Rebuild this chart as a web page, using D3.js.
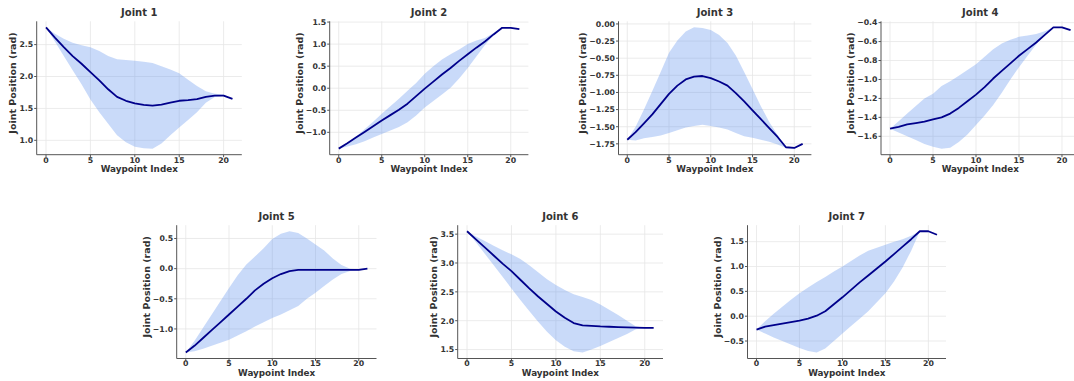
<!DOCTYPE html>
<html>
<head>
<meta charset="utf-8">
<script src="https://cdn.jsdelivr.net/npm/d3@7"></script>
<style>
  body { margin: 0; background: #fff; }
  svg { display: block; font-family: "DejaVu Sans", sans-serif; font-weight: bold; }
</style>
</head>
<body>
<svg id="chart" width="1074" height="381"></svg>
<script>
// waypoint index 0..21
const waypoints = [0,1,2,3,4,5,6,7,8,9,10,11,12,13,14,15,16,17,18,19,20,21];
const xTicks = [0, 5, 10, 15, 20];

// Joint 1
const j1Mean  = [2.77,2.61,2.46,2.32,2.20,2.07,1.94,1.80,1.68,1.62,1.58,1.555,1.545,1.56,1.59,1.62,1.63,1.645,1.68,1.70,1.70,1.65];
const j1Upper = [2.77,2.67,2.59,2.53,2.49,2.46,2.40,2.32,2.27,2.26,2.245,2.23,2.21,2.16,2.11,2.05,1.95,1.85,1.77,1.73,1.72,1.65];
const j1Lower = [2.77,2.55,2.32,2.10,1.88,1.64,1.44,1.26,1.08,0.97,0.90,0.875,0.87,0.95,1.08,1.20,1.32,1.44,1.59,1.68,1.70,1.65];
const j1Ticks = [1.0, 1.5, 2.0, 2.5];

// Joint 2
const j2Mean  = [-1.37,-1.25,-1.12,-0.99,-0.86,-0.73,-0.61,-0.49,-0.35,-0.18,-0.01,0.15,0.31,0.46,0.62,0.77,0.92,1.06,1.22,1.37,1.37,1.34];
const j2Upper = [-1.37,-1.25,-1.10,-0.93,-0.76,-0.58,-0.41,-0.24,-0.06,0.12,0.33,0.50,0.65,0.77,0.88,1.00,1.08,1.14,1.25,1.38,1.38,1.34];
const j2Lower = [-1.37,-1.32,-1.27,-1.20,-1.12,-1.04,-0.96,-0.88,-0.77,-0.62,-0.44,-0.29,-0.14,0.01,0.22,0.46,0.72,0.98,1.20,1.37,1.37,1.34];
const j2Ticks = [-1.0, -0.5, 0.0, 0.5, 1.0, 1.5];

// Joint 3
const j3Mean  = [-1.69,-1.58,-1.45,-1.32,-1.17,-1.02,-0.90,-0.81,-0.77,-0.76,-0.79,-0.84,-0.90,-1.01,-1.13,-1.26,-1.39,-1.52,-1.65,-1.80,-1.81,-1.75];
const j3Upper = [-1.69,-1.50,-1.25,-0.98,-0.70,-0.42,-0.24,-0.11,-0.05,-0.06,-0.09,-0.16,-0.28,-0.46,-0.70,-0.95,-1.20,-1.43,-1.62,-1.80,-1.80,-1.75];
const j3Lower = [-1.69,-1.70,-1.67,-1.65,-1.63,-1.59,-1.55,-1.51,-1.49,-1.47,-1.49,-1.51,-1.54,-1.59,-1.64,-1.66,-1.69,-1.72,-1.76,-1.81,-1.82,-1.76];
const j3Ticks = [-1.75, -1.5, -1.25, -1.0, -0.75, -0.5, -0.25, 0.0];

// Joint 4
const j4Mean  = [-1.52,-1.50,-1.475,-1.46,-1.445,-1.42,-1.40,-1.36,-1.30,-1.23,-1.16,-1.08,-0.99,-0.91,-0.83,-0.75,-0.68,-0.61,-0.53,-0.45,-0.45,-0.48];
const j4Upper = [-1.52,-1.44,-1.36,-1.28,-1.20,-1.15,-1.07,-1.02,-0.96,-0.90,-0.84,-0.76,-0.68,-0.62,-0.58,-0.55,-0.535,-0.52,-0.49,-0.45,-0.45,-0.48];
const j4Lower = [-1.52,-1.56,-1.60,-1.64,-1.68,-1.71,-1.73,-1.72,-1.66,-1.58,-1.48,-1.38,-1.27,-1.14,-1.00,-0.87,-0.75,-0.63,-0.52,-0.45,-0.45,-0.48];
const j4Ticks = [-1.6, -1.4, -1.2, -1.0, -0.8, -0.6, -0.4];

// Joint 5
const j5Mean  = [-1.39,-1.28,-1.15,-1.02,-0.89,-0.76,-0.63,-0.50,-0.36,-0.25,-0.16,-0.09,-0.04,-0.02,-0.02,-0.02,-0.02,-0.02,-0.02,-0.02,-0.02,0.0];
const j5Upper = [-1.39,-1.20,-0.98,-0.76,-0.54,-0.32,-0.11,0.07,0.20,0.34,0.49,0.58,0.62,0.59,0.50,0.40,0.30,0.17,0.06,0.0,-0.01,0.0];
const j5Lower = [-1.39,-1.37,-1.33,-1.28,-1.23,-1.18,-1.11,-1.04,-0.96,-0.89,-0.82,-0.76,-0.69,-0.62,-0.50,-0.40,-0.29,-0.18,-0.09,-0.04,-0.03,0.0];
const j5Ticks = [-1.0, -0.5, 0.0, 0.5];

// Joint 6
const j6Mean  = [3.55,3.41,3.27,3.13,2.99,2.86,2.71,2.56,2.42,2.29,2.16,2.05,1.96,1.92,1.91,1.90,1.895,1.89,1.885,1.88,1.875,1.875];
const j6Upper = [3.55,3.46,3.38,3.30,3.22,3.15,3.07,2.96,2.84,2.72,2.62,2.53,2.46,2.41,2.36,2.28,2.19,2.10,2.00,1.90,1.88,1.875];
const j6Lower = [3.55,3.36,3.16,2.96,2.76,2.56,2.36,2.17,1.98,1.81,1.66,1.55,1.47,1.45,1.50,1.56,1.63,1.70,1.77,1.85,1.87,1.875];
const j6Ticks = [1.5, 2.0, 2.5, 3.0, 3.5];

// Joint 7
const j7Mean  = [-0.27,-0.21,-0.18,-0.15,-0.12,-0.09,-0.05,0.01,0.10,0.24,0.38,0.53,0.68,0.82,0.96,1.10,1.25,1.40,1.55,1.71,1.71,1.64];
const j7Upper = [-0.27,-0.10,0.05,0.19,0.33,0.46,0.58,0.69,0.79,0.90,1.00,1.11,1.22,1.32,1.38,1.44,1.50,1.55,1.62,1.71,1.71,1.64];
const j7Lower = [-0.27,-0.35,-0.43,-0.50,-0.57,-0.64,-0.70,-0.73,-0.65,-0.50,-0.35,-0.20,-0.05,0.10,0.28,0.46,0.70,0.98,1.32,1.71,1.71,1.64];
const j7Ticks = [-0.5, 0.0, 0.5, 1.0, 1.5];

const joints = [
  { title: "Joint 1", mean: j1Mean, upper: j1Upper, lower: j1Lower, ticks: j1Ticks, fmt: ".1f" },
  { title: "Joint 2", mean: j2Mean, upper: j2Upper, lower: j2Lower, ticks: j2Ticks, fmt: ".1f" },
  { title: "Joint 3", mean: j3Mean, upper: j3Upper, lower: j3Lower, ticks: j3Ticks, fmt: ".2f" },
  { title: "Joint 4", mean: j4Mean, upper: j4Upper, lower: j4Lower, ticks: j4Ticks, fmt: ".1f" },
  { title: "Joint 5", mean: j5Mean, upper: j5Upper, lower: j5Lower, ticks: j5Ticks, fmt: ".1f" },
  { title: "Joint 6", mean: j6Mean, upper: j6Upper, lower: j6Lower, ticks: j6Ticks, fmt: ".1f" },
  { title: "Joint 7", mean: j7Mean, upper: j7Upper, lower: j7Lower, ticks: j7Ticks, fmt: ".1f" }
];

// axes boxes [left, right, top, bottom]
const boxes = [
  [36.7, 241.8, 21.3, 154.7],
  [329.7, 528.4, 21.3, 154.7],
  [618.5, 811.4, 21.3, 154.7],
  [881, 1079.6, 21.3, 154.7],
  [176.7, 376.5, 225.2, 358.5],
  [457.7, 663, 225.2, 358.5],
  [747.5, 946, 225.2, 358.5]
];

const textColor = "#333";
const spineColor = "#555";
const gridColor = "#e6e6e6";
const lineColor = "#00008b";
const fillColor = "#6495ed";

const svg = d3.select("#chart");

joints.forEach((j, k) => {
  const [L, R, T, B] = boxes[k];
  const x = d3.scaleLinear().domain([-1.05, 22.05]).range([L, R]);
  const lo = d3.min(j.lower.concat(j.mean));
  const hi = d3.max(j.upper.concat(j.mean));
  const pad = (hi - lo) * 0.05;
  const y = d3.scaleLinear().domain([lo - pad, hi + pad]).range([B, T]);

  const g = svg.append("g");

  // grid
  g.append("g").selectAll("line").data(xTicks).enter().append("line")
    .attr("x1", d => x(d)).attr("x2", d => x(d))
    .attr("y1", T).attr("y2", B)
    .attr("stroke", gridColor).attr("stroke-width", 0.8);
  g.append("g").selectAll("line").data(j.ticks).enter().append("line")
    .attr("x1", L).attr("x2", R)
    .attr("y1", d => y(d)).attr("y2", d => y(d))
    .attr("stroke", gridColor).attr("stroke-width", 0.8);

  // band
  const area = d3.area()
    .x((d, i) => x(waypoints[i]))
    .y0((d, i) => y(j.lower[i]))
    .y1((d, i) => y(j.upper[i]));
  g.append("path").datum(waypoints)
    .attr("d", area)
    .attr("fill", fillColor).attr("fill-opacity", 0.35);

  // mean line
  const line = d3.line()
    .x((d, i) => x(waypoints[i]))
    .y((d, i) => y(j.mean[i]));
  g.append("path").datum(waypoints)
    .attr("d", line)
    .attr("fill", "none").attr("stroke", lineColor)
    .attr("stroke-width", 1.8).attr("stroke-linejoin", "round");

  // spines
  g.append("line").attr("x1", L).attr("x2", L).attr("y1", T).attr("y2", B)
    .attr("stroke", spineColor).attr("stroke-width", 1);
  g.append("line").attr("x1", L).attr("x2", R).attr("y1", B).attr("y2", B)
    .attr("stroke", spineColor).attr("stroke-width", 1);

  // x ticks
  const xt = g.append("g").selectAll("g").data(xTicks).enter().append("g");
  xt.append("line")
    .attr("x1", d => x(d)).attr("x2", d => x(d))
    .attr("y1", B).attr("y2", B + 2.5)
    .attr("stroke", spineColor);
  xt.append("text")
    .attr("x", d => x(d)).attr("y", B + 7.8)
    .attr("text-anchor", "middle")
    .attr("font-size", 7.8).attr("fill", textColor)
    .text(d => d);

  // y ticks
  const f = d3.format(j.fmt);
  const yt = g.append("g").selectAll("g").data(j.ticks).enter().append("g");
  yt.append("line")
    .attr("x1", L - 2.5).attr("x2", L)
    .attr("y1", d => y(d)).attr("y2", d => y(d))
    .attr("stroke", spineColor);
  const labels = yt.append("text")
    .attr("x", L - 3.5).attr("y", d => y(d))
    .attr("dy", "0.36em")
    .attr("text-anchor", "end")
    .attr("font-size", 7.8).attr("fill", textColor)
    .text(d => f(d));
  let maxW = 0;
  labels.each(function () { maxW = Math.max(maxW, this.getComputedTextLength()); });

  // titles & labels
  g.append("text")
    .attr("x", (L + R) / 2).attr("y", T - 5)
    .attr("text-anchor", "middle")
    .attr("font-size", 10).attr("fill", textColor)
    .text(j.title);
  g.append("text")
    .attr("x", (L + R) / 2).attr("y", B + 17)
    .attr("text-anchor", "middle")
    .attr("font-size", 8.8).attr("fill", textColor)
    .text("Waypoint Index");
  const lx = L - 3.5 - maxW - 3;
  g.append("text")
    .attr("transform", `translate(${lx},${(T + B) / 2 - 5}) rotate(-90)`)
    .attr("text-anchor", "middle")
    .attr("font-size", 9.5).attr("fill", textColor)
    .text("Joint Position (rad)");
});
</script>
</body>
</html>
